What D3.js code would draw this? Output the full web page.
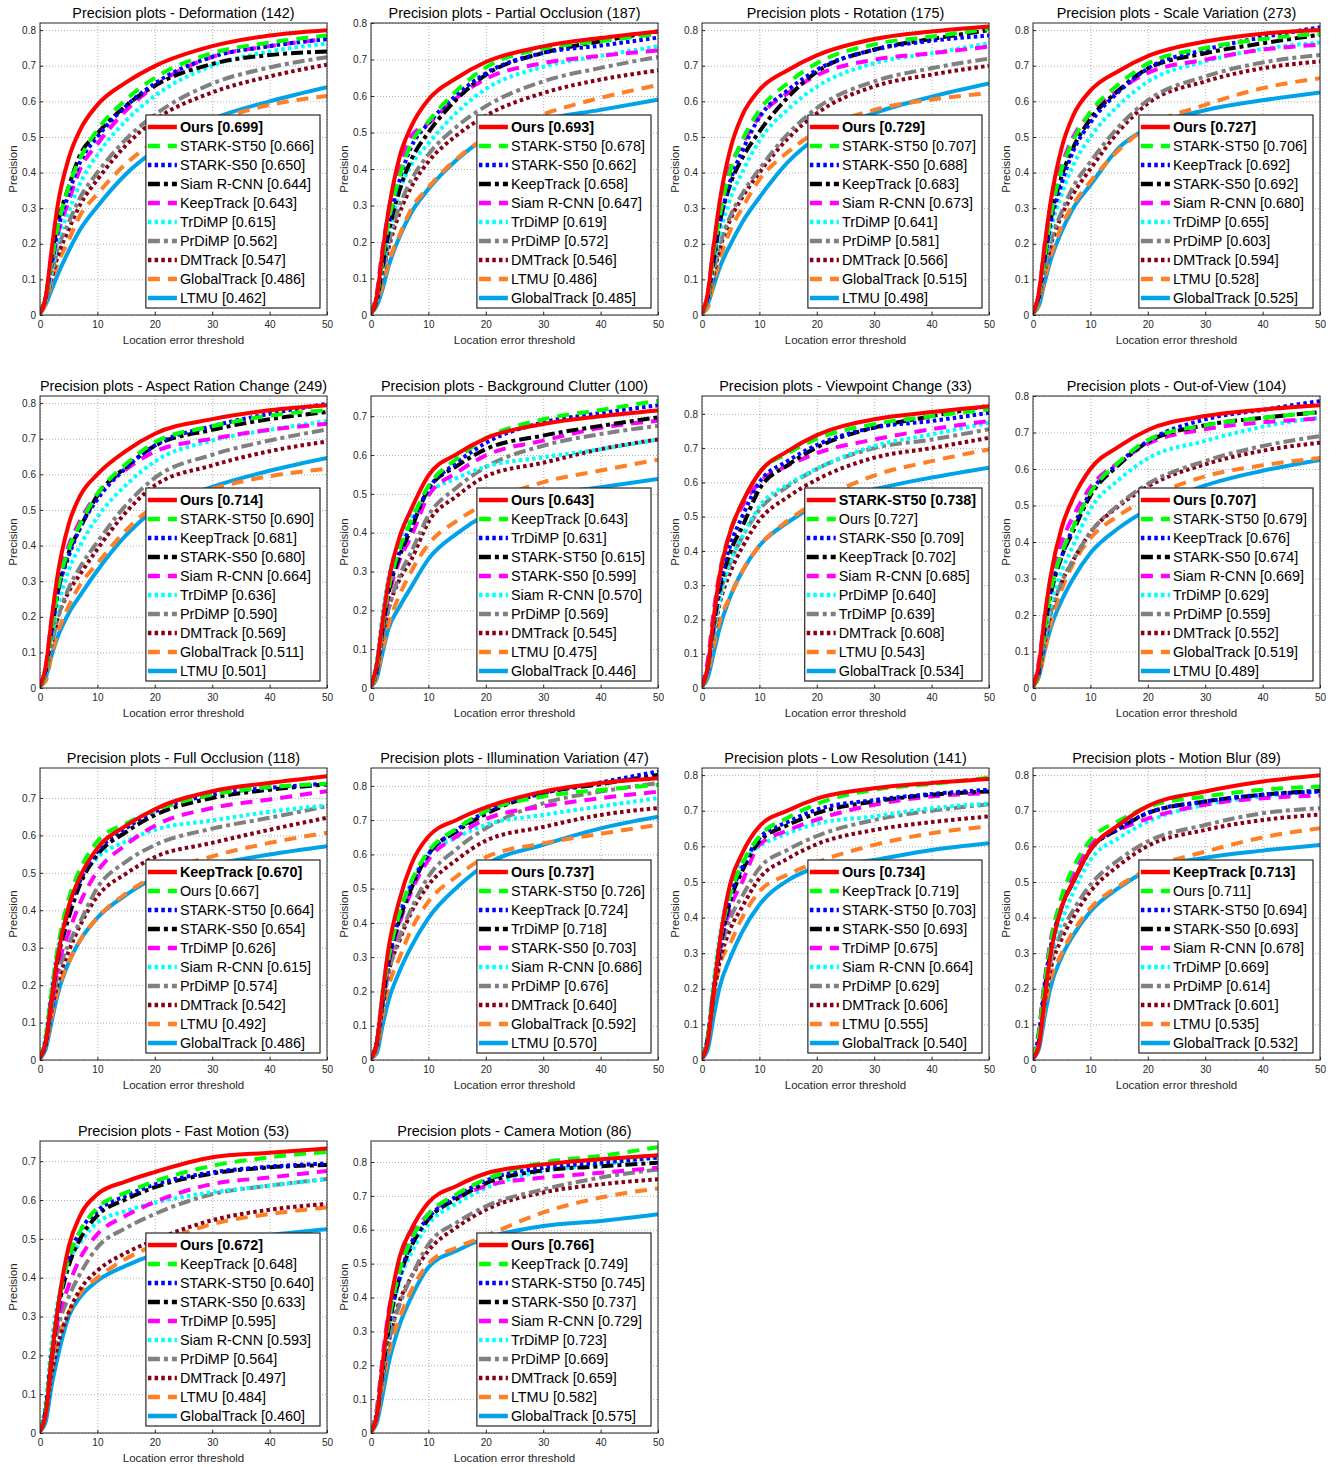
<!DOCTYPE html>
<html>
<head>
<meta charset="utf-8">
<script src="https://cdn.jsdelivr.net/npm/d3@7"></script>
<style>
  body { margin: 0; background: #fff; }
  svg text { font-family: "Liberation Sans", Arial, Helvetica, sans-serif; }
  .grid line { stroke: #8c8c8c; stroke-dasharray: 1,2; stroke-width: 0.7; }
  .grid path { display: none; }
  .axis path { display: none; }
  .axis line { stroke: #262626; }
  .axis text { fill: #262626; font-size: 10px; }
</style>
</head>
<body>
<div id="chart"></div>
<script>
// location error thresholds (px) at which every curve was read
var thresholds = [0, 1, 2, 3, 5, 7, 10, 15, 20, 30, 40, 50]

var titles = [
  'Precision plots - Deformation (142)',
  'Precision plots - Partial Occlusion (187)',
  'Precision plots - Rotation (175)',
  'Precision plots - Scale Variation (273)',
  'Precision plots - Aspect Ration Change (249)',
  'Precision plots - Background Clutter (100)',
  'Precision plots - Viewpoint Change (33)',
  'Precision plots - Out-of-View (104)',
  'Precision plots - Full Occlusion (118)',
  'Precision plots - Illumination Variation (47)',
  'Precision plots - Low Resolution (141)',
  'Precision plots - Motion Blur (89)',
  'Precision plots - Fast Motion (53)',
  'Precision plots - Camera Motion (86)'
]
var yMaxes = [0.82, 0.80, 0.82, 0.82, 0.82, 0.752, 0.852, 0.80, 0.78, 0.852, 0.82, 0.82, 0.752, 0.862]
var xTicks = [0, 10, 20, 30, 40, 50]

// --- Deformation
var deformationNames = ['Ours', 'STARK-ST50', 'STARK-S50', 'Siam R-CNN', 'KeepTrack', 'TrDiMP', 'PrDiMP', 'DMTrack', 'GlobalTrack', 'LTMU']
var deformationScores = [0.699, 0.666, 0.650, 0.644, 0.643, 0.615, 0.562, 0.547, 0.486, 0.462]
var deformationCurves = [
  [0.005, .05, .18, .30, .44, .52, .59, .653, .699, .755, .785, .80],
  [0.005, .05, .15, .24, .36, .44, .52, .605, .666, .735, .765, .785],
  [0.005, .05, .14, .23, .34, .43, .50, .587, .650, .725, .755, .775],
  [0.005, .05, .16, .25, .36, .45, .51, .588, .644, .705, .73, .74],
  [0.005, .05, .14, .22, .32, .41, .48, .575, .643, .725, .755, .775],
  [0.005, .04, .12, .20, .29, .37, .45, .546, .615, .70, .74, .762],
  [0.005, .04, .11, .18, .26, .33, .40, .494, .562, .65, .695, .724],
  [0.005, .04, .10, .16, .24, .31, .38, .477, .547, .625, .67, .703],
  [0.005, .03, .09, .14, .21, .28, .34, .425, .486, .545, .59, .615],
  [0.005, .03, .07, .11, .18, .24, .305, .396, .462, .55, .60, .64]
]

// --- Partial Occlusion
var occlusionNames = ['Ours', 'STARK-ST50', 'STARK-S50', 'KeepTrack', 'Siam R-CNN', 'TrDiMP', 'PrDiMP', 'DMTrack', 'LTMU', 'GlobalTrack']
var occlusionScores = [0.693, 0.678, 0.662, 0.658, 0.647, 0.619, 0.572, 0.546, 0.486, 0.485]
var occlusionCurves = [
  [0.005, .05, .17, .28, .434, .516, .59, .650, .693, .736, .759, .777],
  [0.005, .05, .15, .25, .38, .47, .53, .616, .678, .73, .75, .77],
  [0.005, .05, .14, .24, .37, .46, .525, .604, .662, .718, .738, .76],
  [0.005, .04, .13, .22, .343, .425, .50, .592, .658, .718, .75, .777],
  [0.005, .06, .18, .28, .41, .49, .525, .596, .647, .69, .71, .725],
  [0.005, .04, .12, .21, .34, .41, .47, .556, .619, .68, .71, .736],
  [0.005, .04, .11, .19, .30, .37, .44, .517, .572, .64, .677, .707],
  [0.005, .04, .11, .18, .28, .35, .42, .493, .546, .608, .645, .67],
  [0.005, .03, .08, .14, .22, .29, .35, .429, .486, .55, .595, .63],
  [0.005, .025, .07, .13, .215, .28, .345, .426, .485, .535, .562, .59]
]

// --- Rotation
var rotationNames = ['Ours', 'STARK-ST50', 'STARK-S50', 'KeepTrack', 'Siam R-CNN', 'TrDiMP', 'PrDiMP', 'DMTrack', 'GlobalTrack', 'LTMU']
var rotationScores = [0.729, 0.707, 0.688, 0.683, 0.673, 0.641, 0.581, 0.566, 0.515, 0.498]
var rotationCurves = [
  [0.005, .06, .19, .31, .47, .56, .632, .688, .729, .775, .796, .81],
  [0.005, .05, .17, .27, .41, .49, .575, .652, .707, .76, .782, .803],
  [0.005, .05, .16, .25, .38, .46, .555, .632, .688, .745, .77, .785],
  [0.005, .05, .15, .25, .37, .44, .515, .612, .683, .745, .775, .80],
  [0.005, .06, .19, .29, .42, .48, .557, .624, .673, .717, .735, .754],
  [0.005, .04, .14, .22, .33, .40, .49, .578, .641, .707, .735, .763],
  [0.005, .04, .12, .19, .28, .34, .41, .509, .581, .656, .693, .72],
  [0.005, .04, .11, .18, .27, .33, .40, .496, .566, .642, .675, .70],
  [0.005, .02, .09, .15, .24, .30, .38, .458, .515, .576, .605, .623],
  [0.005, .03, .08, .13, .20, .26, .33, .43, .498, .567, .613, .65]
]

// --- Scale Variation
var scaleNames = ['Ours', 'STARK-ST50', 'KeepTrack', 'STARK-S50', 'Siam R-CNN', 'TrDiMP', 'PrDiMP', 'DMTrack', 'LTMU', 'GlobalTrack']
var scaleScores = [0.727, 0.706, 0.692, 0.692, 0.680, 0.655, 0.603, 0.594, 0.528, 0.525]
var scaleCurves = [
  [0.005, .06, .19, .31, .47, .56, .63, .686, .727, .768, .79, .80],
  [0.005, .05, .16, .27, .41, .49, .57, .649, .706, .75, .775, .79],
  [0.005, .05, .15, .25, .37, .46, .54, .628, .692, .745, .78, .808],
  [0.005, .05, .16, .26, .39, .47, .55, .632, .692, .735, .763, .787],
  [0.005, .06, .19, .30, .42, .50, .565, .632, .680, .717, .745, .759],
  [0.005, .04, .14, .23, .34, .42, .50, .590, .655, .712, .747, .765],
  [0.005, .04, .12, .20, .29, .36, .43, .530, .603, .67, .709, .73],
  [0.005, .04, .12, .19, .28, .34, .41, .517, .594, .656, .693, .712],
  [0.005, .03, .10, .16, .25, .31, .375, .464, .528, .59, .637, .665],
  [0.005, .025, .09, .15, .235, .30, .365, .47, .525, .575, .603, .625]
]

// --- Aspect Ration Change
var aspectNames = ['Ours', 'STARK-ST50', 'KeepTrack', 'STARK-S50', 'Siam R-CNN', 'TrDiMP', 'PrDiMP', 'DMTrack', 'GlobalTrack', 'LTMU']
var aspectScores = [0.714, 0.690, 0.681, 0.680, 0.664, 0.636, 0.590, 0.569, 0.511, 0.501]
var aspectCurves = [
  [0.005, .06, .19, .31, .46, .54, .60, .666, .714, .755, .78, .794],
  [0.005, .05, .16, .27, .39, .46, .545, .629, .690, .735, .765, .78],
  [0.005, .05, .16, .26, .37, .45, .53, .618, .681, .735, .77, .798],
  [0.005, .05, .16, .26, .38, .45, .54, .621, .680, .725, .755, .775],
  [0.005, .06, .19, .29, .40, .47, .545, .614, .664, .70, .725, .742],
  [0.005, .04, .14, .22, .33, .40, .48, .570, .636, .695, .725, .75],
  [0.005, .04, .12, .19, .28, .34, .41, .514, .590, .655, .695, .726],
  [0.005, .04, .12, .19, .27, .32, .39, .494, .569, .625, .665, .692],
  [0.005, .02, .09, .15, .23, .29, .35, .443, .511, .56, .595, .616],
  [0.005, .03, .09, .14, .21, .26, .33, .429, .501, .565, .61, .646]
]

// --- Background Clutter
var clutterNames = ['Ours', 'KeepTrack', 'TrDiMP', 'STARK-ST50', 'STARK-S50', 'Siam R-CNN', 'PrDiMP', 'DMTrack', 'LTMU', 'GlobalTrack']
var clutterScores = [0.643, 0.643, 0.631, 0.615, 0.599, 0.570, 0.569, 0.545, 0.475, 0.446]
var clutterCurves = [
  [0.005, .06, .17, .27, .39, .46, .547, .603, .643, .68, .70, .715],
  [0.005, .05, .16, .25, .36, .43, .52, .591, .643, .692, .716, .74],
  [0.005, .05, .16, .25, .35, .42, .512, .581, .631, .684, .708, .728],
  [0.005, .05, .15, .24, .34, .41, .512, .572, .615, .65, .675, .697],
  [0.005, .05, .15, .23, .33, .39, .495, .555, .599, .637, .67, .688],
  [0.005, .07, .19, .28, .38, .44, .50, .541, .570, .594, .615, .64],
  [0.005, .04, .13, .20, .29, .35, .444, .517, .569, .624, .654, .675],
  [0.005, .04, .13, .20, .28, .33, .427, .495, .545, .58, .615, .64],
  [0.005, .03, .10, .16, .24, .30, .37, .431, .475, .53, .56, .588],
  [0.005, .025, .09, .15, .21, .26, .332, .398, .446, .495, .517, .538]
]

// --- Viewpoint Change
var viewpointNames = ['STARK-ST50', 'Ours', 'STARK-S50', 'KeepTrack', 'Siam R-CNN', 'PrDiMP', 'TrDiMP', 'DMTrack', 'LTMU', 'GlobalTrack']
var viewpointScores = [0.738, 0.727, 0.709, 0.702, 0.685, 0.640, 0.639, 0.608, 0.543, 0.534]
var viewpointCurves = [
  [0.005, .06, .20, .32, .46, .54, .628, .692, .738, .784, .805, .822],
  [0.005, .06, .20, .32, .46, .54, .628, .685, .727, .77, .793, .813],
  [0.005, .06, .18, .29, .42, .50, .60, .663, .709, .76, .779, .803],
  [0.005, .06, .18, .28, .40, .47, .58, .651, .702, .76, .793, .824],
  [0.005, .08, .22, .33, .46, .53, .60, .649, .685, .725, .755, .779],
  [0.005, .05, .16, .25, .37, .44, .53, .594, .640, .706, .74, .774],
  [0.005, .05, .16, .26, .37, .44, .52, .589, .639, .70, .725, .755],
  [0.005, .05, .15, .24, .34, .41, .49, .558, .608, .672, .70, .73],
  [0.005, .04, .12, .19, .27, .34, .415, .489, .543, .62, .662, .696],
  [0.005, .03, .10, .17, .27, .34, .415, .484, .534, .58, .614, .643]
]

// --- Out-of-View
var outViewNames = ['Ours', 'STARK-ST50', 'KeepTrack', 'STARK-S50', 'Siam R-CNN', 'TrDiMP', 'PrDiMP', 'DMTrack', 'GlobalTrack', 'LTMU']
var outViewScores = [0.707, 0.679, 0.676, 0.674, 0.669, 0.629, 0.559, 0.552, 0.519, 0.489]
var outViewCurves = [
  [0.005, .06, .19, .30, .44, .52, .60, .662, .707, .745, .763, .775],
  [0.005, .05, .16, .26, .37, .44, .535, .619, .679, .72, .74, .756],
  [0.005, .05, .16, .26, .36, .44, .535, .617, .676, .736, .762, .786],
  [0.005, .05, .16, .25, .36, .43, .527, .612, .674, .72, .74, .756],
  [0.005, .07, .19, .29, .40, .47, .55, .619, .669, .709, .728, .738],
  [0.005, .05, .14, .22, .32, .39, .49, .571, .629, .677, .716, .741],
  [0.005, .04, .13, .20, .29, .35, .426, .503, .559, .622, .663, .69],
  [0.005, .04, .12, .20, .29, .35, .426, .499, .552, .613, .65, .672],
  [0.005, .03, .10, .17, .27, .34, .41, .473, .519, .58, .61, .63],
  [0.005, .03, .10, .16, .24, .30, .37, .439, .489, .555, .595, .625]
]

// --- Full Occlusion
var fullOccNames = ['KeepTrack', 'Ours', 'STARK-ST50', 'STARK-S50', 'TrDiMP', 'Siam R-CNN', 'PrDiMP', 'DMTrack', 'LTMU', 'GlobalTrack']
var fullOccScores = [0.670, 0.667, 0.664, 0.654, 0.626, 0.615, 0.574, 0.542, 0.492, 0.486]
var fullOccCurves = [
  [0.005, .05, .16, .27, .41, .49, .566, .626, .670, .718, .74, .758],
  [0.005, .06, .18, .29, .43, .51, .584, .632, .667, .709, .729, .738],
  [0.005, .05, .17, .27, .40, .48, .557, .619, .664, .709, .727, .738],
  [0.005, .05, .16, .26, .38, .47, .548, .609, .654, .70, .722, .736],
  [0.005, .05, .15, .24, .34, .42, .504, .575, .626, .673, .696, .718],
  [0.005, .07, .19, .29, .41, .48, .54, .584, .615, .64, .663, .68],
  [0.005, .04, .14, .22, .31, .37, .46, .53, .574, .618, .647, .678],
  [0.005, .04, .13, .20, .29, .36, .437, .498, .542, .58, .615, .647],
  [0.005, .04, .11, .18, .26, .32, .38, .445, .492, .544, .58, .607],
  [0.005, .03, .10, .17, .26, .32, .38, .441, .486, .522, .549, .571]
]

// --- Illumination Variation
var illumNames = ['Ours', 'STARK-ST50', 'KeepTrack', 'TrDiMP', 'STARK-S50', 'Siam R-CNN', 'PrDiMP', 'DMTrack', 'GlobalTrack', 'LTMU']
var illumScores = [0.737, 0.726, 0.724, 0.718, 0.703, 0.686, 0.676, 0.640, 0.592, 0.570]
var illumCurves = [
  [0.005, .05, .19, .32, .47, .57, .652, .701, .737, .783, .808, .822],
  [0.005, .05, .18, .29, .43, .52, .608, .676, .726, .769, .788, .803],
  [0.005, .05, .17, .28, .42, .51, .60, .672, .724, .779, .81, .842],
  [0.005, .05, .17, .28, .41, .50, .60, .668, .718, .779, .805, .832],
  [0.005, .05, .17, .27, .40, .49, .584, .653, .703, .74, .764, .783],
  [0.005, .06, .20, .31, .44, .52, .60, .650, .686, .715, .74, .764],
  [0.005, .04, .16, .25, .36, .44, .535, .617, .676, .749, .783, .808],
  [0.005, .04, .15, .25, .35, .43, .51, .585, .640, .68, .715, .735],
  [0.005, .03, .13, .21, .30, .38, .462, .537, .592, .632, .66, .686],
  [0.005, .02, .10, .17, .26, .33, .414, .504, .570, .628, .676, .71]
]

// --- Low Resolution
var lowResNames = ['Ours', 'KeepTrack', 'STARK-ST50', 'STARK-S50', 'TrDiMP', 'Siam R-CNN', 'PrDiMP', 'DMTrack', 'LTMU', 'GlobalTrack']
var lowResScores = [0.734, 0.719, 0.703, 0.693, 0.675, 0.664, 0.629, 0.606, 0.555, 0.540]
var lowResCurves = [
  [0.005, .05, .19, .32, .50, .58, .656, .701, .734, .763, .778, .789],
  [0.005, .06, .20, .32, .47, .55, .628, .681, .719, .759, .775, .793],
  [0.005, .06, .19, .30, .46, .54, .623, .669, .703, .73, .747, .759],
  [0.005, .06, .19, .30, .45, .53, .614, .660, .693, .726, .745, .754],
  [0.005, .06, .19, .30, .43, .50, .604, .645, .675, .717, .74, .749],
  [0.005, .07, .22, .34, .49, .56, .60, .637, .664, .684, .707, .72],
  [0.005, .06, .19, .29, .40, .46, .539, .591, .629, .674, .70, .718],
  [0.005, .06, .18, .27, .37, .43, .51, .566, .606, .646, .668, .684],
  [0.005, .05, .17, .26, .33, .40, .473, .521, .555, .604, .637, .656],
  [0.005, .03, .12, .20, .29, .36, .436, .505, .540, .562, .59, .609]
]

// --- Motion Blur
var blurNames = ['KeepTrack', 'Ours', 'STARK-ST50', 'STARK-S50', 'Siam R-CNN', 'TrDiMP', 'PrDiMP', 'DMTrack', 'LTMU', 'GlobalTrack']
var blurScores = [0.713, 0.711, 0.694, 0.693, 0.678, 0.669, 0.614, 0.601, 0.535, 0.532]
var blurCurves = [
  [0.005, .04, .17, .29, .43, .50, .59, .661, .713, .754, .782, .80],
  [0.005, .07, .21, .32, .46, .54, .618, .672, .711, .74, .759, .768],
  [0.005, .07, .21, .31, .43, .50, .59, .650, .694, .726, .745, .754],
  [0.005, .05, .19, .30, .43, .50, .59, .649, .693, .726, .745, .756],
  [0.005, .08, .22, .33, .45, .52, .604, .647, .678, .717, .735, .743],
  [0.005, .05, .18, .28, .39, .47, .562, .624, .669, .717, .74, .754],
  [0.005, .05, .18, .27, .36, .42, .492, .563, .614, .66, .693, .707],
  [0.005, .05, .16, .25, .34, .40, .473, .547, .601, .646, .674, .689],
  [0.005, .04, .14, .22, .30, .36, .426, .489, .535, .585, .625, .651],
  [0.005, .03, .12, .20, .29, .35, .417, .484, .532, .568, .588, .604]
]

// --- Fast Motion
var fastNames = ['Ours', 'KeepTrack', 'STARK-ST50', 'STARK-S50', 'TrDiMP', 'Siam R-CNN', 'PrDiMP', 'DMTrack', 'LTMU', 'GlobalTrack']
var fastScores = [0.672, 0.648, 0.640, 0.633, 0.595, 0.593, 0.564, 0.497, 0.484, 0.460]
var fastCurves = [
  [0.005, .05, .19, .31, .48, .56, .615, .648, .672, .71, .722, .733],
  [0.005, .06, .20, .31, .45, .52, .58, .619, .648, .688, .71, .724],
  [0.005, .06, .20, .31, .45, .52, .572, .611, .640, .671, .686, .694],
  [0.005, .06, .19, .30, .43, .50, .56, .602, .633, .668, .684, .69],
  [0.005, .06, .19, .28, .38, .45, .512, .560, .595, .641, .658, .675],
  [0.005, .08, .23, .33, .44, .49, .542, .572, .593, .62, .637, .654],
  [0.005, .05, .17, .26, .35, .41, .478, .528, .564, .615, .637, .654],
  [0.005, .05, .15, .22, .31, .37, .418, .464, .497, .548, .575, .59],
  [0.005, .05, .16, .23, .31, .36, .40, .449, .484, .538, .564, .581],
  [0.005, .03, .12, .19, .30, .35, .392, .431, .460, .49, .51, .525]
]

// --- Camera Motion
var cameraNames = ['Ours', 'KeepTrack', 'STARK-ST50', 'STARK-S50', 'Siam R-CNN', 'TrDiMP', 'PrDiMP', 'DMTrack', 'LTMU', 'GlobalTrack']
var cameraScores = [0.766, 0.749, 0.745, 0.737, 0.729, 0.723, 0.669, 0.659, 0.582, 0.575]
var cameraCurves = [
  [0.005, .05, .20, .34, .52, .60, .68, .730, .766, .793, .808, .82],
  [0.005, .06, .20, .32, .48, .57, .646, .706, .749, .798, .818, .844],
  [0.005, .06, .19, .31, .46, .56, .636, .699, .745, .783, .798, .813],
  [0.005, .05, .18, .30, .46, .55, .631, .692, .737, .775, .787, .798],
  [0.005, .07, .22, .35, .50, .58, .646, .694, .729, .754, .768, .783],
  [0.005, .05, .17, .29, .45, .53, .616, .678, .723, .773, .793, .815],
  [0.005, .05, .16, .26, .38, .46, .557, .622, .669, .719, .754, .778],
  [0.005, .05, .16, .26, .39, .46, .538, .608, .659, .71, .734, .749],
  [0.005, .04, .14, .23, .34, .42, .50, .548, .582, .651, .695, .722],
  [0.005, .03, .11, .20, .32, .40, .489, .539, .575, .611, .626, .646]
]

// line style by legend rank
var rankColors = ['#ff0000', '#00ff00', '#0000ff', '#000000', '#ff00ff', '#00ffff', '#808080', '#880015', '#ff7f27', '#00a2e8']
var rankDashes = [null, '12,8', '3.5,3.2', '12,4,4,4', '12,8', '3.5,3.2', '12,4,4,4', '3.5,3.2', '12,8', null]

var allNames = [deformationNames, occlusionNames, rotationNames, scaleNames, aspectNames, clutterNames, viewpointNames,
  outViewNames, fullOccNames, illumNames, lowResNames, blurNames, fastNames, cameraNames]
var allScores = [deformationScores, occlusionScores, rotationScores, scaleScores, aspectScores, clutterScores, viewpointScores,
  outViewScores, fullOccScores, illumScores, lowResScores, blurScores, fastScores, cameraScores]
var allCurves = [deformationCurves, occlusionCurves, rotationCurves, scaleCurves, aspectCurves, clutterCurves, viewpointCurves,
  outViewCurves, fullOccCurves, illumCurves, lowResCurves, blurCurves, fastCurves, cameraCurves]

var width = 1336, height = 1467
var colX = [0, 331, 662, 993]
var rowY = [0, 373, 745, 1118]
var axLeft = 40, axRight = 327, axTop = 23, axBottom = 315

var svg = d3.select('#chart')
  .append('svg')
  .attr('width', width)
  .attr('height', height)

titles.forEach(function(title, i) {
  var g = svg.append('g')
    .attr('transform', `translate(${colX[i % 4]},${rowY[Math.floor(i / 4)]})`)

  var xScale = d3.scaleLinear().domain([0, 50]).range([axLeft, axRight])
  var yScale = d3.scaleLinear().domain([0, yMaxes[i]]).range([axBottom, axTop])
  var yTicks = d3.range(0, 9).map(k => k / 10).filter(v => v <= yMaxes[i] + 1e-6)

  // white plot area
  g.append('rect')
    .attr('x', axLeft).attr('y', axTop)
    .attr('width', axRight - axLeft).attr('height', axBottom - axTop)
    .style('fill', '#fff')

  // grids
  g.append('g')
    .attr('class', 'grid')
    .attr('transform', `translate(0,${axBottom})`)
    .call(d3.axisBottom(xScale).tickValues(xTicks).tickSize(-(axBottom - axTop)).tickFormat(''))

  g.append('g')
    .attr('class', 'grid')
    .attr('transform', `translate(${axLeft},0)`)
    .call(d3.axisLeft(yScale).tickValues(yTicks).tickSize(-(axRight - axLeft)).tickFormat(''))

  // curves
  g.append('clipPath')
    .attr('id', 'clip-' + i)
    .append('rect')
    .attr('x', axLeft).attr('y', axTop)
    .attr('width', axRight - axLeft).attr('height', axBottom - axTop)

  var line = d3.line()
    .x((d, j) => xScale(thresholds[j]))
    .y(d => yScale(d))
    .curve(d3.curveMonotoneX)

  var series = allCurves[i].map((c, k) => ({ values: c, rank: k })).reverse()

  g.append('g')
    .attr('clip-path', `url(#clip-${i})`)
    .selectAll('path')
    .data(series)
    .enter()
    .append('path')
    .attr('d', d => line(d.values))
    .style('fill', 'none')
    .style('stroke', d => rankColors[d.rank])
    .style('stroke-width', 4)
    .style('stroke-dasharray', d => rankDashes[d.rank])

  // axes with inward ticks
  g.append('g')
    .attr('class', 'axis')
    .attr('transform', `translate(0,${axBottom})`)
    .call(d3.axisBottom(xScale).tickValues(xTicks).tickSizeInner(-3).tickSizeOuter(0).tickPadding(6))

  g.append('g')
    .attr('class', 'axis')
    .attr('transform', `translate(${axLeft},0)`)
    .call(d3.axisLeft(yScale).tickValues(yTicks).tickSizeInner(-3).tickSizeOuter(0).tickPadding(4)
      .tickFormat(d => d === 0 ? '0' : d.toFixed(1)))

  g.append('rect')
    .attr('x', axLeft).attr('y', axTop)
    .attr('width', axRight - axLeft).attr('height', axBottom - axTop)
    .style('fill', 'none')
    .style('stroke', '#262626')
    .style('stroke-width', 1)

  // title and labels
  g.append('text')
    .attr('x', (axLeft + axRight) / 2)
    .attr('y', 18)
    .attr('text-anchor', 'middle')
    .style('font-size', '14.4px')
    .style('fill', '#000')
    .text(title)

  g.append('text')
    .attr('x', (axLeft + axRight) / 2)
    .attr('y', 344)
    .attr('text-anchor', 'middle')
    .style('font-size', '11.5px')
    .style('fill', '#262626')
    .text('Location error threshold')

  g.append('text')
    .attr('transform', `translate(17,${(axTop + axBottom) / 2}) rotate(-90)`)
    .attr('text-anchor', 'middle')
    .style('font-size', '11.5px')
    .style('fill', '#262626')
    .text('Precision')

  // legend
  var legend = g.append('g')
  var rowH = 19, legH = 193

  var labels = legend.selectAll('text')
    .data(allNames[i])
    .enter()
    .append('text')
    .style('font-size', '14.4px')
    .style('font-weight', (d, k) => k === 0 ? 'bold' : 'normal')
    .style('fill', '#000')
    .text((d, k) => `${d} [${allScores[i][k].toFixed(3)}]`)

  var maxW = d3.max(labels.nodes(), n => n.getComputedTextLength())
  var legW = 34 + maxW + 6
  var legX = axRight - 7 - legW
  var legY = axBottom - 7 - legH

  legend.insert('rect', ':first-child')
    .attr('x', legX).attr('y', legY)
    .attr('width', legW).attr('height', legH)
    .style('fill', '#fff')
    .style('stroke', '#262626')
    .style('stroke-width', 1.2)

  labels
    .attr('x', legX + 34)
    .attr('y', (d, k) => legY + 12 + k * rowH)
    .attr('dy', '0.36em')

  legend.selectAll('line')
    .data(allNames[i])
    .enter()
    .append('line')
    .attr('x1', legX + 2)
    .attr('x2', legX + 31)
    .attr('y1', (d, k) => legY + 12 + k * rowH)
    .attr('y2', (d, k) => legY + 12 + k * rowH)
    .style('stroke', (d, k) => rankColors[k])
    .style('stroke-width', 4.5)
    .style('stroke-dasharray', (d, k) => rankDashes[k])
})
</script>
</body>
</html>
